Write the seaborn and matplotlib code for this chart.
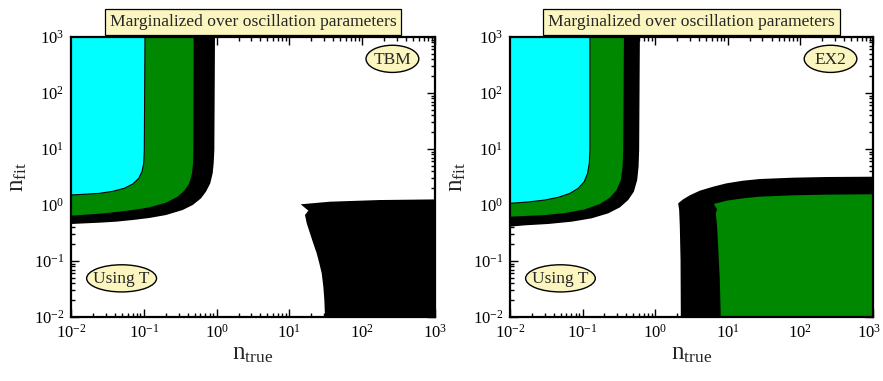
import numpy as np
import matplotlib
matplotlib.use("Agg")
import matplotlib.pyplot as plt
import matplotlib.transforms as mtransforms
import seaborn as sns
from matplotlib.patches import Ellipse
from matplotlib.ticker import LogLocator, FuncFormatter, NullFormatter

sns.set_theme(style="ticks")
plt.rcParams["font.family"] = ["Liberation Serif", "DejaVu Serif"]
plt.rcParams["mathtext.fontset"] = "custom"
plt.rcParams["mathtext.rm"] = "Liberation Serif"
plt.rcParams["mathtext.it"] = "Liberation Serif:italic"

# ---- allowed-region boundaries, stored as log10(n_true), log10(n_fit) ----
# TBM panel: regions hugging the upper-left corner
tbm_black_lx = [-0.022, -0.031, -0.040, -0.054, -0.087, -0.146, -0.214, -0.328, -0.466, -0.695, -0.924, -1.152, -1.382, -1.611, -2.0]
tbm_black_ly = [3.0, 0.982, 0.744, 0.566, 0.387, 0.238, 0.119, 0.0, -0.089, -0.179, -0.232, -0.268, -0.298, -0.316, -0.339]
tbm_green_lx = [-0.315, -0.320, -0.324, -0.338, -0.375, -0.444, -0.535, -0.695, -0.924, -1.152, -1.382, -1.611, -2.0]
tbm_green_ly = [3.0, 0.982, 0.744, 0.566, 0.387, 0.256, 0.149, 0.042, -0.042, -0.089, -0.125, -0.155, -0.191]
tbm_cyan_lx = [-0.984, -0.993, -1.001, -1.025, -1.070, -1.152, -1.268, -1.428, -1.611, -1.840, -2.0]
tbm_cyan_ly = [3.0, 0.982, 0.744, 0.595, 0.476, 0.375, 0.298, 0.244, 0.208, 0.190, 0.179]
# TBM panel: region in the lower-right corner
tbm_low_lx = [1.155, 1.260, 1.214, 1.238, 1.283, 1.328, 1.375, 1.411, 1.444, 1.466, 1.480, 1.489, 3.0, 3.0, 2.245, 1.558]
tbm_low_ly = [0.0125, -0.100, -0.179, -0.327, -0.506, -0.685, -0.863, -1.042, -1.220, -1.458, -1.696, -2.0, -2.0, 0.100, 0.089, 0.059]

# EX2 panel: regions hugging the upper-left corner
ex2_black_lx = [-0.211, -0.221, -0.229, -0.248, -0.294, -0.372, -0.486, -0.647, -0.876, -1.151, -1.473, -1.794, -2.0]
ex2_black_ly = [3.0, 0.982, 0.684, 0.446, 0.238, 0.089, -0.042, -0.149, -0.238, -0.298, -0.339, -0.363, -0.387]
ex2_green_lx = [-0.431, -0.441, -0.449, -0.473, -0.532, -0.624, -0.762, -0.968, -1.243, -1.518, -1.794, -2.0]
ex2_green_ly = [3.0, 0.982, 0.684, 0.446, 0.268, 0.131, 0.018, -0.077, -0.143, -0.179, -0.196, -0.209]
ex2_cyan_lx = [-0.899, -0.899, -0.908, -0.931, -0.977, -1.060, -1.174, -1.335, -1.518, -1.748, -2.0]
ex2_cyan_ly = [3.0, 0.982, 0.744, 0.566, 0.417, 0.298, 0.208, 0.137, 0.089, 0.054, 0.030]
# EX2 panel: regions in the lower-right corner
ex2_low_black_lx = [0.316, 0.330, 0.339, 0.349, 0.353, 3.0, 3.0, 2.358, 1.899, 1.440, 1.210, 0.982, 0.798, 0.615, 0.477, 0.385]
ex2_low_black_ly = [0.030, -0.089, -0.387, -0.982, -2.0, -2.0, 0.505, 0.500, 0.488, 0.464, 0.434, 0.387, 0.327, 0.256, 0.173, 0.102]
ex2_low_green_lx = [0.807, 0.853, 0.835, 0.853, 0.872, 0.890, 0.903, 3.0, 3.0, 2.358, 1.899, 1.440, 1.210, 0.982]
ex2_low_green_ly = [0.018, -0.077, -0.148, -0.387, -0.863, -1.339, -2.0, -2.0, 0.191, 0.185, 0.173, 0.149, 0.119, 0.077]

panel_tags = ["TBM", "EX2"]
title_text = "Marginalized over oscillation parameters"
corner_text = "Using T"
decades = [-2, -1, 0, 1, 2, 3]

CYAN = "#00ffff"
GREEN = "#008800"
BLACK = "#000000"
LABEL_FILL = "#fbf6bf"


def corner_region(ax, lx, ly, color, edge=None):
    """Region bounded by the left/top frame and a curve (log10 coordinates)."""
    xs = np.power(10.0, np.r_[lx, -2.0])
    ys = np.power(10.0, np.r_[ly, 3.0])
    ax.fill(xs, ys, color=color, lw=0, zorder=2)
    if edge is not None:
        ax.plot(np.power(10.0, lx), np.power(10.0, ly), color=edge, lw=0.8, zorder=3)


def closed_region(ax, lx, ly, color):
    ax.fill(np.power(10.0, lx), np.power(10.0, ly), color=color, lw=0, zorder=2)


def oval_label(ax, x, y, w, h, text):
    ax.add_patch(Ellipse((x, y), w, h, transform=ax.transAxes, fc=LABEL_FILL,
                         ec="black", lw=1.0, zorder=6))
    ax.text(x, y - 0.004, text, transform=ax.transAxes, ha="center", va="center",
            fontsize=12.5, zorder=7)


fig = plt.figure(figsize=(8.83, 3.81), dpi=100)
ax1 = fig.add_axes([71 / 883, 1 - 317 / 381, 364 / 883, 280 / 381])
ax2 = fig.add_axes([510 / 883, 1 - 317 / 381, 363 / 883, 280 / 381])

# TBM
corner_region(ax1, tbm_black_lx, tbm_black_ly, BLACK)
corner_region(ax1, tbm_green_lx, tbm_green_ly, GREEN)
corner_region(ax1, tbm_cyan_lx, tbm_cyan_ly, CYAN, edge="black")
closed_region(ax1, tbm_low_lx, tbm_low_ly, BLACK)

# EX2
corner_region(ax2, ex2_black_lx, ex2_black_ly, BLACK)
corner_region(ax2, ex2_green_lx, ex2_green_ly, GREEN)
corner_region(ax2, ex2_cyan_lx, ex2_cyan_ly, CYAN, edge="black")
closed_region(ax2, ex2_low_black_lx, ex2_low_black_ly, BLACK)
closed_region(ax2, ex2_low_green_lx, ex2_low_green_ly, GREEN)

fmt = FuncFormatter(lambda v, p: r"$\mathregular{10^{%d}}$" % int(round(np.log10(v))))

for ax, tag in zip([ax1, ax2], panel_tags):
    ax.set_xscale("log")
    ax.set_yscale("log")
    ax.set_xlim(10.0 ** decades[0], 10.0 ** decades[-1])
    ax.set_ylim(10.0 ** decades[0], 10.0 ** decades[-1])
    ax.set_xticks([10.0 ** d for d in decades])
    ax.set_yticks([10.0 ** d for d in decades])
    ax.xaxis.set_major_formatter(fmt)
    ax.yaxis.set_major_formatter(fmt)
    ax.xaxis.set_minor_locator(LogLocator(base=10, subs=np.arange(2, 10), numticks=20))
    ax.yaxis.set_minor_locator(LogLocator(base=10, subs=np.arange(2, 10), numticks=20))
    ax.xaxis.set_minor_formatter(NullFormatter())
    ax.yaxis.set_minor_formatter(NullFormatter())
    ax.tick_params(which="both", direction="in", top=True, right=True, colors="black",
                   labelsize=12, width=1.0)
    ax.tick_params(which="major", length=6, pad=5)
    ax.tick_params(which="minor", length=3)
    for s in ax.spines.values():
        s.set_linewidth(1.6)
        s.set_color("black")
        s.set_zorder(5)
    ax.set_facecolor("white")
    ax.set_xlabel(r"$\mathregular{n_{true}}$", fontsize=18, labelpad=1)
    ax.set_ylabel(r"$\mathregular{n_{fit}}$", fontsize=18, labelpad=3)
    ax.set_title(title_text, fontsize=12.6, pad=8,
                 bbox=dict(boxstyle="square,pad=0.28", fc=LABEL_FILL, ec="black", lw=0.9))
    oval_label(ax, 0.883, 0.922, 0.145, 0.097, tag)
    oval_label(ax, 0.139, 0.138, 0.192, 0.097, corner_text)

# nudge the last x tick label of the right panel so it stays inside the figure
shift = mtransforms.ScaledTranslation(-4 / 100, 0, fig.dpi_scale_trans)
last_label = ax2.get_xticklabels()[-1]
last_label.set_transform(last_label.get_transform() + shift)

fig.savefig("out.png", dpi=100)
